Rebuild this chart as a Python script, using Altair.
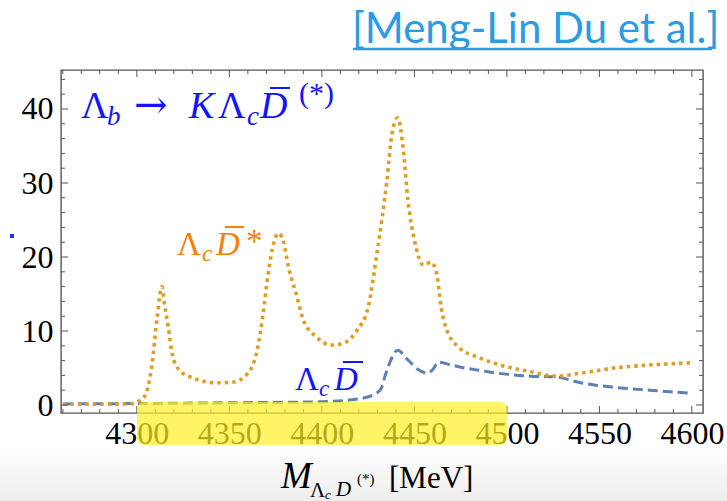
import altair as alt
import pandas as pd

# ---------------- data ----------------
# Lambda_c Dbar* (orange dotted)
xs_star = [4260, 4280, 4296, 4300, 4304, 4308, 4311, 4313.5, 4315, 4317, 4319, 4323, 4328, 4333,
           4343, 4352, 4360, 4365, 4368, 4371, 4374, 4376.5, 4379, 4382, 4386, 4390, 4397, 4405,
           4412, 4419, 4425, 4430, 4435, 4438, 4441, 4444, 4446.5, 4450, 4455, 4459, 4462, 4464.5,
           4467, 4474, 4485, 4501, 4513, 4526, 4540, 4558, 4577, 4600]
ys_star = [0.1, 0.1, 0.15, 0.4, 1.1, 5.1, 11.9, 16.0, 13.5, 10.5, 7.0, 4.7, 3.9, 3.4,
           3.0, 3.1, 4.3, 7.4, 11.9, 17.8, 21.9, 23.2, 22.3, 18.6, 15.1, 11.5, 9.2, 8.1,
           8.4, 10.1, 13.2, 20.9, 30.0, 36.8, 38.8, 34.5, 27.7, 22.3, 18.9, 19.3, 17.8, 13.2,
           10.5, 7.8, 6.4, 5.1, 4.5, 3.9, 4.3, 5.0, 5.4, 5.7]

# Lambda_c Dbar (blue dashed)
xs_d = [4260, 4300, 4350, 4400, 4416, 4428, 4432, 4434, 4437, 4441, 4446.5, 4452, 4457, 4460,
        4463, 4470, 4477, 4485, 4495, 4513, 4526, 4540, 4558, 4577, 4600]
ys_d = [0.15, 0.2, 0.3, 0.45, 0.7, 1.4, 2.2, 3.8, 5.9, 7.4, 6.1, 4.8, 4.3, 4.8,
        5.8, 5.4, 5.0, 4.7, 4.3, 3.9, 3.8, 3.0, 2.4, 2.0, 1.6]

x_major = [4300, 4350, 4400, 4450, 4500, 4550, 4600]
x_minor = [v for v in range(4260, 4601, 10) if v % 50 != 0]
y_major = [0, 10, 20, 30, 40]
y_minor = [v for v in range(2, 45, 2) if v % 10 != 0]

X_DOMAIN = [4259, 4606]
Y_DOMAIN = [-1.08, 45.27]

# ---------------- layout ----------------
W, H = 642, 343
L, T = 61, 70
def px(x):
    return x - L
def py(y):
    return y - T

xs = alt.Scale(domain=X_DOMAIN, nice=False, zero=False)
ys = alt.Scale(domain=Y_DOMAIN, nice=False, zero=False)

SERIF = "Liberation Serif"
FRAME = "#555555"

xaxis = alt.Axis(values=x_major, format="d", labelFont=SERIF, labelFontSize=32, labelColor="black",
                 ticks=False, tickSize=0, domain=False, grid=False, labelPadding=5,
                 labelFlush=False, labelOverlap=False, title=None)
yaxis = alt.Axis(values=y_major, format="d", labelFont=SERIF, labelFontSize=32, labelColor="black",
                 ticks=False, tickSize=0, domain=False, grid=False, labelPadding=8,
                 labelFlush=False, labelOverlap=False, title=None)

def X(field):
    return alt.X(field, scale=xs, axis=xaxis)
def Y(field):
    return alt.Y(field, scale=ys, axis=yaxis)

one = pd.DataFrame({"t": [""]})

layers = []

# bottom gray gradient
layers.append(
    alt.Chart(one).mark_rect(
        color=alt.Gradient(gradient="linear",
                           stops=[alt.GradientStop(color="#ffffff", offset=0),
                                  alt.GradientStop(color="#ededed", offset=1)],
                           x1=0, x2=0, y1=0, y2=1)
    ).encode(x=alt.value(px(0)), x2=alt.value(px(727)), y=alt.value(py(448)), y2=alt.value(py(501)))
)

# curves
df_d = pd.DataFrame({"x": xs_d, "y": ys_d})
df_s = pd.DataFrame({"x": xs_star, "y": ys_star})
layers.append(
    alt.Chart(df_d).mark_line(color="#5E81B5", strokeWidth=3, strokeDash=[10, 5],
                              interpolate="monotone", strokeCap="butt")
    .encode(x=X("x:Q"), y=Y("y:Q"))
)
layers.append(
    alt.Chart(df_s).mark_line(color="#E19C24", strokeWidth=3.6, strokeDash=[3.5, 4],
                              interpolate="monotone", strokeCap="butt")
    .encode(x=X("x:Q"), y=Y("y:Q"))
)

# inner frame ticks
def xticks(vals, ln):
    d = pd.DataFrame({"v": vals})
    b = alt.Chart(d).mark_rule(color=FRAME, strokeWidth=1).encode(
        x=X("v:Q"), y=alt.value(H), y2=alt.value(H - ln))
    t = alt.Chart(d).mark_rule(color=FRAME, strokeWidth=1).encode(
        x=X("v:Q"), y=alt.value(0), y2=alt.value(ln))
    return [b, t]

def yticks(vals, ln):
    d = pd.DataFrame({"v": vals})
    l = alt.Chart(d).mark_rule(color=FRAME, strokeWidth=1).encode(
        y=Y("v:Q"), x=alt.value(0), x2=alt.value(ln))
    r = alt.Chart(d).mark_rule(color=FRAME, strokeWidth=1).encode(
        y=Y("v:Q"), x=alt.value(W), x2=alt.value(W - ln))
    return [l, r]

layers += xticks(x_major, 7) + xticks(x_minor, 4) + yticks(y_major, 7) + yticks(y_minor, 4)

# text helper
def txt(s, x, y, size, color="black", style="normal", font=SERIF):
    return alt.Chart(pd.DataFrame({"t": [s]})).mark_text(
        align="left", baseline="alphabetic", font=font, fontSize=size,
        fontStyle=style, color=color
    ).encode(text="t:N", x=alt.value(px(x)), y=alt.value(py(y)))

def bar(x1, x2, y, color, w=2):
    return alt.Chart(one).mark_rule(color=color, strokeWidth=w).encode(
        x=alt.value(px(x1)), x2=alt.value(px(x2)), y=alt.value(py(y)))

BLUE = "#1414ff"
ORANGE = "#f77f00"

# Lambda_b -> K Lambda_c Dbar^(*)
layers += [
    txt("Λ", 81, 118, 38, BLUE),
    txt("b", 107, 125, 27, BLUE, "italic"),
    txt("→", 134, 118, 40, BLUE, "normal", "DejaVu Serif"),
    txt("K", 189, 118, 38, BLUE, "italic"),
    txt("Λ", 218, 118, 38, BLUE),
    txt("c", 247, 125, 27, BLUE, "italic"),
    txt("D", 260, 118, 38, BLUE, "italic"),
    bar(270, 290, 88, BLUE),
    txt("(*)", 299, 103, 30, BLUE),
]

# Lambda_c Dbar*
layers += [
    txt("Λ", 177, 255, 33, ORANGE),
    txt("c", 202, 261, 23, ORANGE, "italic"),
    txt("D", 216, 255, 33, ORANGE, "italic"),
    bar(225, 244, 227, ORANGE),
    txt("*", 246, 252, 33, ORANGE),
]

# Lambda_c Dbar
layers += [
    txt("Λ", 295, 390, 33, BLUE),
    txt("c", 319, 396, 23, BLUE, "italic"),
    txt("D", 334, 390, 33, BLUE, "italic"),
    bar(343, 363, 362, BLUE),
]

# axis title
layers += [
    txt("M", 281, 488, 37, "black", "italic"),
    txt("Λ", 310, 497, 21, "black"),
    txt("c", 325, 499, 13, "black", "italic"),
    txt("D", 336, 496, 21, "black", "italic"),
    txt("(*)", 357, 484, 15, "black"),
    txt("[MeV]", 389, 488, 31, "black"),
]

# header
HDR = "#2b9be3"
layers += [
    txt("[Meng-Lin Du et al.]", 352, 43, 42, HDR, "normal", "Lato"),
    bar(353, 712, 49, HDR, 2.5),
]

# stray blue dot (cut y label)
layers.append(
    alt.Chart(one).mark_square(color="#1a3cff", size=16, opacity=1).encode(
        x=alt.value(px(12)), y=alt.value(py(236)))
)

# yellow highlight over the axis labels
layers.append(
    alt.Chart(one).mark_rect(color="#FFEF24", opacity=0.7, cornerRadius=7).encode(
        x=alt.value(px(137)), x2=alt.value(px(507)), y=alt.value(py(402)), y2=alt.value(py(445)))
)

chart = alt.layer(*layers).properties(
    width=W, height=H,
    padding={"left": L, "top": T, "right": 727 - L - W, "bottom": 501 - T - H},
    autosize=alt.AutoSizeParams(type="none"),
    background="white",
).configure_view(stroke=FRAME, strokeWidth=1.4)

chart.save("out.html", embed_options={"renderer": "svg", "actions": False})
